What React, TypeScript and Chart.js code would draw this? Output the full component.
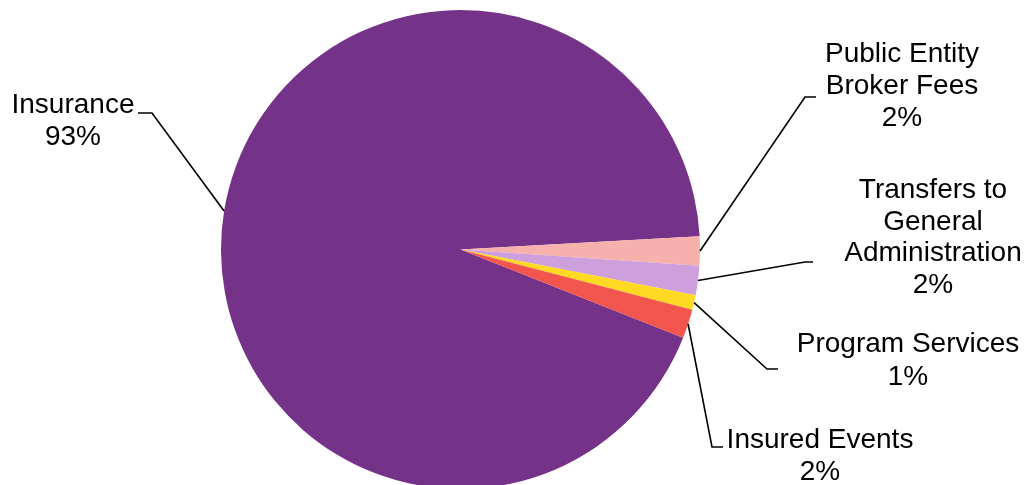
import React, { useEffect, useRef } from "react";
import { Chart, registerables } from "chart.js";

Chart.register(...registerables);

// Expense categories, in clockwise drawing order
const categories = [
  "Insurance",
  "Public Entity Broker Fees",
  "Transfers to General Administration",
  "Program Services",
  "Insured Events",
];

// Share of total spending (percent)
const shares = [93.1, 1.97, 1.97, 1.0, 1.96];

// Label text broken into lines
const labelLines = [
  ["Insurance"],
  ["Public Entity", "Broker Fees"],
  ["Transfers to", "General", "Administration"],
  ["Program Services"],
  ["Insured Events"],
];

const sliceColors = ["#753289", "#F7B1AC", "#CE9FDD", "#FFD922", "#F2554D"];

// Label placement: text centre x, first baseline, line gap, leader elbow and end
const labelLayout = [
  { cx: 73, y: 113, gap: 32, elbow: [152, 113], end: [138, 113] },
  { cx: 902, y: 62, gap: 32, elbow: [805, 97], end: [816, 97] },
  { cx: 933, y: 198, gap: 31.7, elbow: [805, 262], end: [813, 262] },
  { cx: 908, y: 352, gap: 33, elbow: [767, 369], end: [778, 369] },
  { cx: 820, y: 448, gap: 32, elbow: [712, 447], end: [723, 447] },
];

const FONT = '28px "Liberation Sans", Arial, sans-serif';

const outsideLabels = {
  id: "outsideLabels",
  afterDraw(chart: any) {
    const ctx = chart.ctx;
    const meta = chart.getDatasetMeta(0);
    const data = chart.data.datasets[0].data as number[];
    const total = data.reduce((a, b) => a + b, 0);
    ctx.save();
    meta.data.forEach((arc: any, i: number) => {
      const lay = labelLayout[i];
      const mid = (arc.startAngle + arc.endAngle) / 2;
      const ax = arc.x + Math.cos(mid) * arc.outerRadius;
      const ay = arc.y + Math.sin(mid) * arc.outerRadius;
      ctx.strokeStyle = "#000";
      ctx.lineWidth = 1.6;
      ctx.beginPath();
      ctx.moveTo(ax, ay);
      ctx.lineTo(lay.elbow[0], lay.elbow[1]);
      ctx.lineTo(lay.end[0], lay.end[1]);
      ctx.stroke();

      const pct = Math.round((data[i] / total) * 100) + "%";
      const lines = [...labelLines[i], pct];
      ctx.fillStyle = "#000";
      ctx.font = FONT;
      ctx.textAlign = "center";
      ctx.textBaseline = "alphabetic";
      lines.forEach((t, k) => {
        ctx.fillText(t, lay.cx, lay.y + k * lay.gap);
      });
    });
    ctx.restore();
  },
};

export default function App() {
  const canvasRef = useRef<HTMLCanvasElement>(null);

  useEffect(() => {
    const canvas = canvasRef.current;
    if (!canvas) return;
    const chart = new Chart(canvas, {
      type: "pie",
      data: {
        labels: categories,
        datasets: [
          {
            data: shares,
            backgroundColor: sliceColors,
            borderWidth: 0,
          },
        ],
      },
      options: {
        responsive: false,
        animation: false,
        rotation: 111.65,
        layout: { padding: { top: 10, bottom: 6, left: 221, right: 329 } },
        plugins: {
          legend: { display: false },
          tooltip: { enabled: false },
        },
      },
      plugins: [outsideLabels],
    });
    return () => chart.destroy();
  }, []);

  return (
    <div
      style={{
        position: "fixed",
        left: 0,
        top: 0,
        width: 1029,
        height: 485,
        overflow: "hidden",
        background: "#fff",
      }}
    >
      <canvas ref={canvasRef} width={1029} height={495} />
    </div>
  );
}
